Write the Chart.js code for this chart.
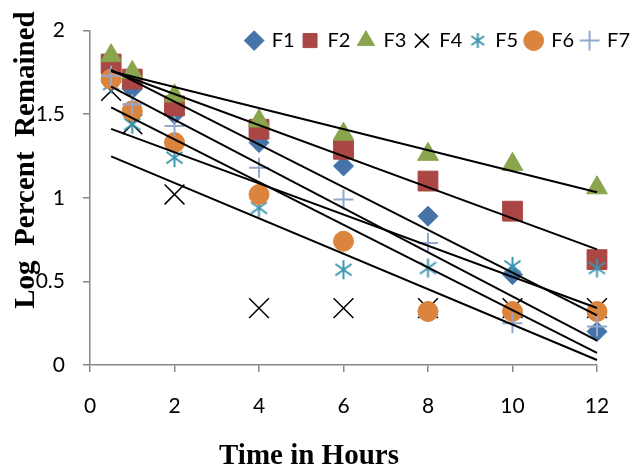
<!DOCTYPE html>
<html>
<head>
<meta charset="utf-8">
<script src="https://cdn.jsdelivr.net/npm/chart.js@4.4.0/dist/chart.umd.min.js"></script>
<style>
  html, body { margin: 0; padding: 0; background: #fff; }
</style>
</head>
<body>
<canvas id="myChart" width="634" height="473"></canvas>
<script>
// time points (hours)
const hours = [0.5, 1, 2, 4, 6, 8, 10, 12];

// log percent remained
const f1 = [1.78, 1.65, 1.50, 1.33, 1.19, 0.89, 0.54, 0.20];
const f2 = [1.80, 1.71, 1.55, 1.41, 1.29, 1.10, 0.92, 0.63];
const f3 = [1.85, 1.75, 1.61, 1.46, 1.38, 1.26, 1.20, 1.06];
const f4 = [1.64, 1.44, 1.02, 0.34, 0.34, 0.34, 0.34, 0.34];
const f5 = [1.68, 1.44, 1.24, 0.94, 0.57, 0.58, 0.59, 0.58];
const f6 = [1.71, 1.52, 1.33, 1.02, 0.74, 0.32, 0.32, 0.32];
const f7 = [1.73, 1.56, 1.43, 1.18, 0.99, 0.73, 0.25, 0.23];

const names = ['F1', 'F2', 'F3', 'F4', 'F5', 'F6', 'F7'];
const xTicks = [0, 2, 4, 6, 8, 10, 12];
const yTicks = [0, 0.5, 1, 1.5, 2];

// excel-like asterisk marker (vertical bar + X)
function asterisk(color, size, lw) {
    const c = document.createElement('canvas');
    c.width = c.height = size;
    const g = c.getContext('2d');
    const m = size / 2, r = size / 2 - 1;
    g.strokeStyle = color;
    g.lineWidth = lw;
    g.beginPath();
    g.moveTo(m, m - r); g.lineTo(m, m + r);
    g.moveTo(m - r * 0.85, m - r * 0.6); g.lineTo(m + r * 0.85, m + r * 0.6);
    g.moveTo(m + r * 0.85, m - r * 0.6); g.lineTo(m - r * 0.85, m + r * 0.6);
    g.stroke();
    return c;
}
const star = asterisk('#3D96AE', 21, 2);
const starSmall = asterisk('#3D96AE', 17, 2);

// linear trendline over the data range, like excel's
function trend(ys) {
    const n = hours.length;
    const mx = hours.reduce((a, b) => a + b, 0) / n;
    const my = ys.reduce((a, b) => a + b, 0) / n;
    let sxy = 0, sxx = 0;
    hours.forEach((x, i) => { sxy += (x - mx) * (ys[i] - my); sxx += (x - mx) * (x - mx); });
    const b = sxy / sxx, a = my - b * mx;
    const x0 = hours[0], x1 = hours[n - 1];
    return [{ x: x0, y: a + b * x0 }, { x: x1, y: a + b * x1 }];
}

const pts = ys => hours.map((x, i) => ({ x: x, y: ys[i] }));

const series = [
    { data: f1, color: '#4572A7', style: 'rectRot', r: 10, bw: 1 },
    { data: f2, color: '#AA4643', style: 'rect', r: 14, bw: 1 },
    { data: f3, color: '#89A54E', style: 'triangle', r: 12, bw: 1 },
    { data: f4, color: '#000000', style: 'crossRot', r: 14, bw: 1.5 },
    { data: f5, color: '#3D96AE', style: star, r: 10, bw: 2 },
    { data: f6, color: '#DB843D', style: 'circle', r: 10, bw: 1 },
    { data: f7, color: '#92A8CD', style: 'cross', r: 10, bw: 2 }
];

const datasets = series.map((s, i) => ({
    label: names[i],
    data: pts(s.data),
    pointStyle: s.style,
    pointRadius: s.r,
    pointBackgroundColor: s.color,
    pointBorderColor: s.color,
    pointBorderWidth: s.bw,
    showLine: false,
    clip: false,
    order: 7 - i
}));

series.forEach((s, i) => {
    datasets.push({
        label: 'trend ' + names[i],
        data: trend(s.data),
        showLine: true,
        borderColor: '#000',
        borderWidth: 2,
        pointRadius: 0,
        clip: false,
        order: 0
    });
});

// legend sits inside the plot, so it takes no room and hangs past the right edge
const legendSpot = {
    id: 'legendSpot',
    beforeInit(chart) {
        const fit = chart.legend.fit;
        chart.legend.fit = function () { fit.call(this); this.height = 0; };
    },
    afterLayout(chart) {
        const lg = chart.legend;
        lg.top -= 8;
        lg.left = 0;
        lg.right = 638;
        lg.bottom = lg.top + 40;
    }
};

// axis titles (the y one overlaps the tick labels in the original)
const axisTitles = {
    id: 'axisTitles',
    afterDraw(chart) {
        const ctx = chart.ctx;
        ctx.save();
        ctx.fillStyle = '#000';
        ctx.font = 'bold 29px "Liberation Serif"';
        ctx.textAlign = 'center';
        ctx.textBaseline = 'middle';
        ctx.fillText('Time in Hours', 309, 457);
        ctx.translate(27, 160);
        ctx.rotate(-Math.PI / 2);
        ctx.fillText('Log  Percent  Remained', 0, 0);
        ctx.restore();
    }
};

const axisGrey = '#888888';
const tickFont = { family: 'Lato', size: 21 };

new Chart(document.getElementById('myChart').getContext('2d'), {
    type: 'scatter',
    data: { datasets: datasets },
    plugins: [legendSpot, axisTitles],
    options: {
        responsive: false,
        animation: false,
        layout: { padding: { top: 20, right: 37, bottom: 0, left: 0 } },
        plugins: {
            tooltip: { enabled: false },
            legend: {
                position: 'top',
                align: 'end',
                labels: {
                    usePointStyle: true,
                    boxWidth: 15,
                    boxHeight: 14,
                    padding: 8,
                    color: '#000',
                    font: { family: 'Lato', size: 20 },
                    filter: item => item.datasetIndex < names.length,
                    sort: (a, b) => a.datasetIndex - b.datasetIndex,
                    generateLabels(chart) {
                        const items = Chart.defaults.plugins.legend.labels.generateLabels(chart);
                        items.forEach(it => {
                            if (it.pointStyle === star) it.pointStyle = starSmall;
                        });
                        return items;
                    }
                }
            }
        },
        scales: {
            x: {
                type: 'linear',
                min: 0,
                max: 12,
                afterBuildTicks: scale => { scale.ticks = xTicks.map(v => ({ value: v })); },
                afterFit: scale => { scale.height = 108; },
                grid: { drawOnChartArea: false, color: axisGrey, lineWidth: 1.5, tickLength: 7 },
                border: { color: axisGrey, width: 1.5 },
                ticks: { color: '#000', font: tickFont, padding: 22, callback: v => String(v) }
            },
            y: {
                type: 'linear',
                min: 0,
                max: 2,
                afterBuildTicks: scale => { scale.ticks = yTicks.map(v => ({ value: v })); },
                afterFit: scale => { scale.width = 90; },
                grid: { drawOnChartArea: false, color: axisGrey, lineWidth: 1.5, tickLength: 7 },
                border: { color: axisGrey, width: 1.5 },
                ticks: { color: '#000', font: tickFont, padding: 18, callback: v => String(v) }
            }
        }
    }
});
</script>
</body>
</html>
